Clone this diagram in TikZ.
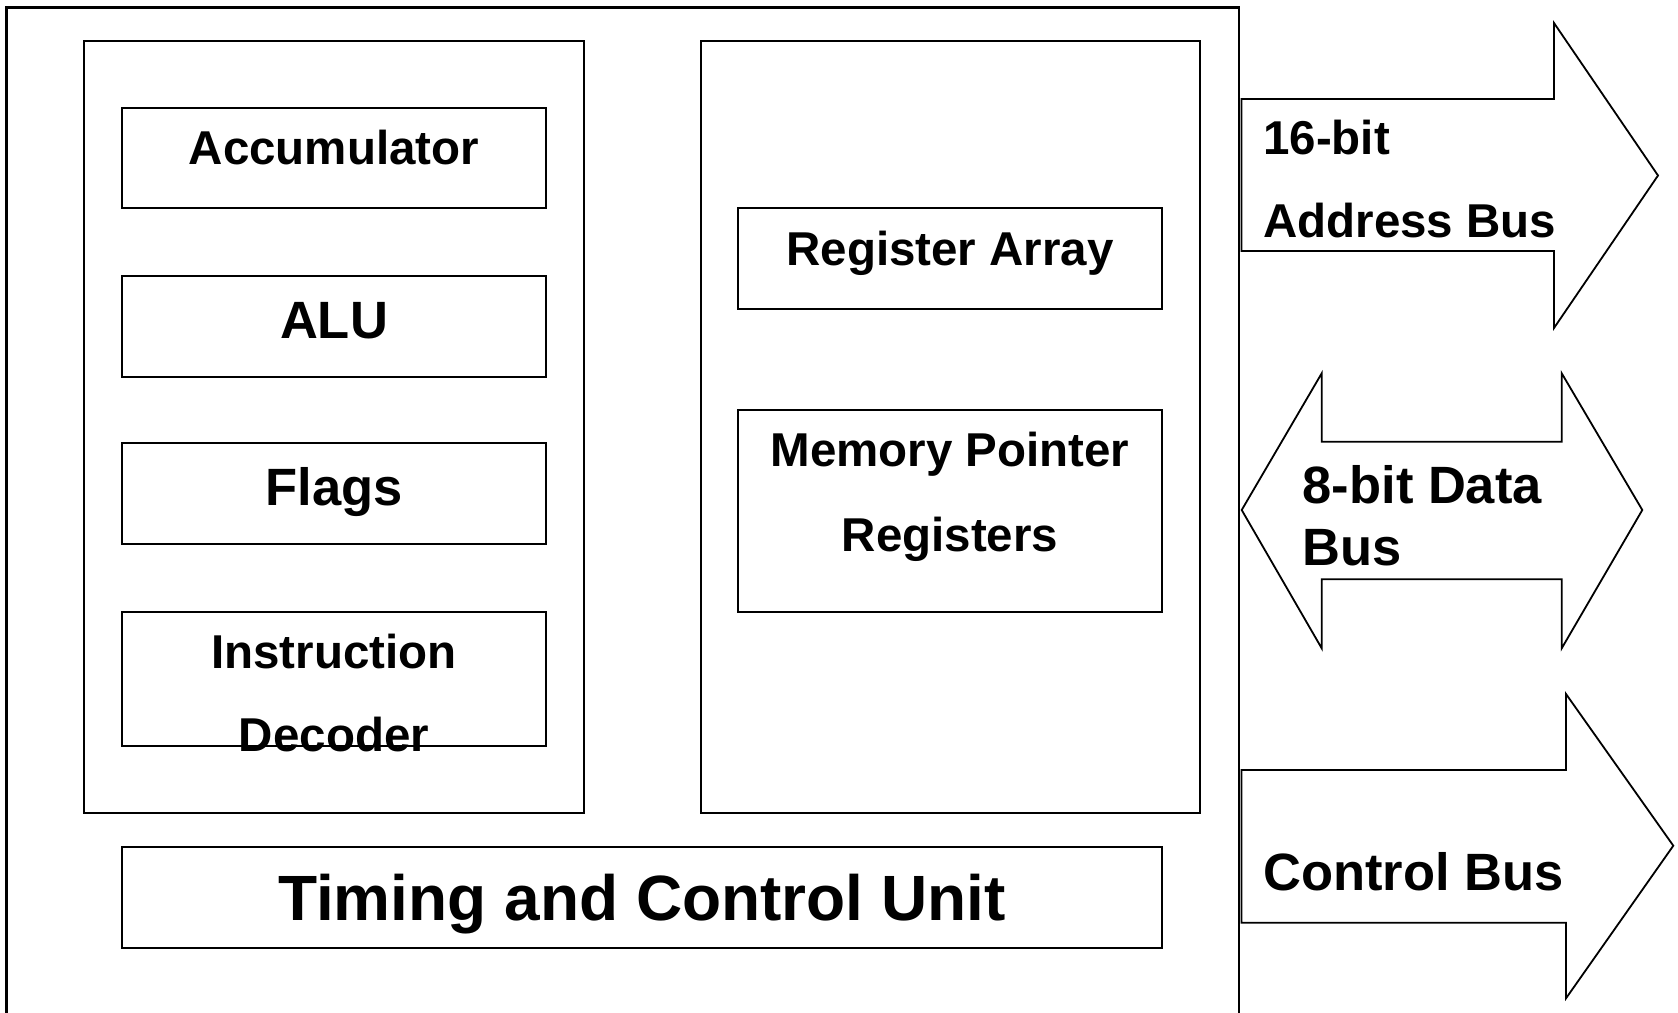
\documentclass[tikz,border=0pt]{standalone}
\usepackage{fontspec}
\setmainfont{Liberation Sans}
\begin{document}
\begin{tikzpicture}[x=1pt,y=-1pt,
  line join=miter,
  frame/.style={draw=black,line width=2pt,fill=none,inner sep=0pt,outer sep=0pt},
  unit/.style={frame,rectangle},
  busarrow/.style={draw=black,line width=1.8pt,fill=white,line join=miter},
  lbl/.style={inner sep=0pt,outer sep=0pt,font=\bfseries\fontsize{47.5}{57}\selectfont},
  lblmid/.style={lbl,font=\bfseries\fontsize{52.5}{63}\selectfont},
  lblbig/.style={lbl,font=\bfseries\fontsize{64}{77}\selectfont}]

% page area
\useasboundingbox (0,0) rectangle (1678,1012);
\clip (0,0) rectangle (1678,1012);
\fill[white] (0,0) rectangle (1678,1012);

% processor outline (runs off the bottom edge)
\draw[line width=2.4pt] (6.5,1030) -- (6.5,7.5) -- (1239,7.5) -- (1239,1030);

% left and right groups
\node[unit,minimum width=500.5pt,minimum height=772pt] (leftgrp)  at (333.75,426.7) {};
\node[unit,minimum width=499pt,minimum height=772pt]   (rightgrp) at (950,426.7) {};

% functional units
\node[unit,minimum width=424pt,minimum height=100.6pt] (acc)   at (334,158) {};
\node[unit,minimum width=424pt,minimum height=101pt]   (alu)   at (334,326.2) {};
\node[unit,minimum width=424pt,minimum height=101pt]   (flags) at (334,493.8) {};
\node[unit,minimum width=424pt,minimum height=134pt]   (idec)  at (334,678.7) {};
\node[unit,minimum width=424.6pt,minimum height=101pt] (regs)  at (950,258.8) {};
\node[unit,minimum width=424.6pt,minimum height=201.7pt] (mptr) at (950,510.85) {};
\node[unit,minimum width=1040.3pt,minimum height=101pt] (tcu)  at (642.15,897.2) {};

% labels of the units
\node[lbl,anchor=base]    (accT)   at (334,164)   {Accumulator};
\node[lblmid,anchor=base] (aluT)   at (334,338.3) {ALU};
\node[lblmid,anchor=base] (flagsT) at (334,505)   {Flags};
\node[lbl,anchor=base]    (idecA)  at (334,668.3) {Instruction};
\node[lbl,anchor=base]    (idecB)  at (334,751.7) {Decoder};
\node[lbl,anchor=base]    (regsT)  at (950,265)   {Register Array};
\node[lbl,anchor=base]    (mptrA)  at (950,466.7) {Memory Pointer};
\node[lbl,anchor=base]    (mptrB)  at (950,551)   {Registers};
\node[lblbig,anchor=base] (tcuT)   at (642,920)   {Timing and Control Unit};

% address bus: one-way arrow
\draw[busarrow] (1241.5,99) -- (1554,99) -- (1554,23) -- (1658,175.5)
  -- (1554,328) -- (1554,251) -- (1241.5,251) -- cycle;
% data bus: two-way arrow
\draw[busarrow] (1241.7,510) -- (1321.7,373.3) -- (1321.7,441.7) -- (1561.7,441.7)
  -- (1561.7,373.3) -- (1642.3,510) -- (1561.7,648.3) -- (1561.7,579.3)
  -- (1321.7,579.3) -- (1321.7,648.3) -- cycle;
% control bus: one-way arrow
\draw[busarrow] (1241.5,770) -- (1566,770) -- (1566,694) -- (1673.3,845.7)
  -- (1566,998.3) -- (1566,922.7) -- (1241.5,922.7) -- cycle;

% bus labels
\node[lbl,anchor=base west]    (addrA) at (1263.3,154.3) {16-bit};
\node[lbl,anchor=base west]    (addrB) at (1263.3,237.3) {Address Bus};
\node[lblmid,anchor=base west] (dataA) at (1302.7,503.3) {8-bit Data};
\node[lblmid,anchor=base west] (dataB) at (1302.7,565)   {Bus};
\node[lblmid,anchor=base west] (ctrlT) at (1263.3,890.7) {Control Bus};
\end{tikzpicture}
\end{document}
